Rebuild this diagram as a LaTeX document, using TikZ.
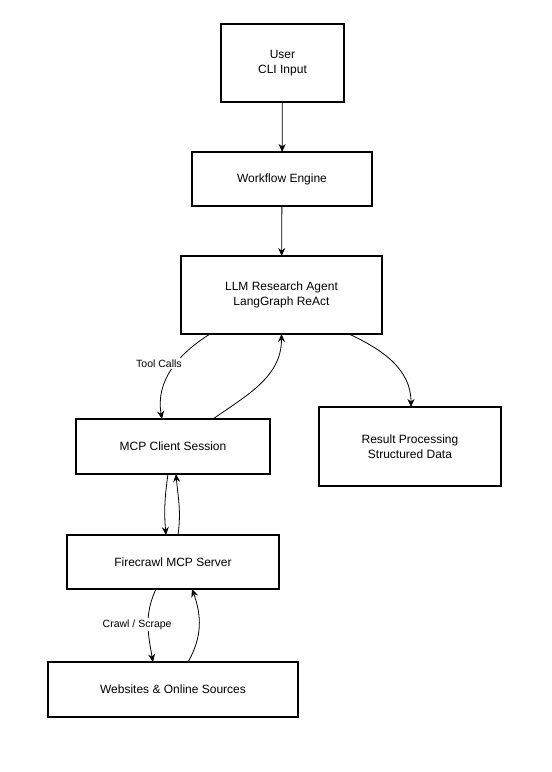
\documentclass[tikz,border=0pt]{standalone}
\usepackage{fontspec}
\setmainfont{Liberation Sans}
\usetikzlibrary{arrows.meta}
\begin{document}
\begin{tikzpicture}[x=1pt, y=1pt]
        \tikzstyle{block}=[draw=black, line width=1.6pt, align=center, font=\fontsize{12}{15}\selectfont, outer sep=0pt, inner sep=2pt]
        \tikzstyle{edge-node}=[font=\fontsize{10.5}{12}\selectfont, fill=white, inner sep=1.5pt]
        \tikzstyle{transition}=[-{Stealth[length=8pt, width=7pt]}, line width=0.8pt]
        \useasboundingbox[fill=white] (0, 0) rectangle (552, -772);
        % \draw (0, 0) grid (552, -772);
        \node[block, minimum width=123pt, minimum height=78pt] (user) at (282.5, -63) {User\\CLI Input};
        \node[block, minimum width=180pt, minimum height=54pt] (workflow) at (282, -179) {Workflow Engine};
        \node[block, minimum width=201pt, minimum height=78pt] (agent) at (281.5, -295) {LLM Research Agent\\LangGraph ReAct};
        \node[block, minimum width=194pt, minimum height=55pt] (client) at (173, -446.5) {MCP Client Session};
        \node[block, minimum width=182pt, minimum height=79pt] (result) at (410, -446.5) {Result Processing\\Structured Data};
        \node[block, minimum width=212pt, minimum height=54pt] (server) at (173, -562) {Firecrawl MCP Server};
        \node[block, minimum width=250pt, minimum height=55pt] (sources) at (173, -689.5) {Websites \& Online Sources};

        \draw[transition] (user) -- (workflow);
        \draw[transition] (workflow) -- (agent);
        \draw[transition] ([xshift=-71.5pt]agent.south) to[out=212, in=100] node[edge-node, pos=0.42, xshift=-17pt] {Tool Calls} ([xshift=-11pt]client.north);
        \draw[transition] ([xshift=40pt]client.north) to[out=35, in=270] (agent.south);
        \draw[transition] ([xshift=67.5pt]agent.south) to[out=-25, in=90] ([xshift=1pt]result.north);
        \draw[transition] ([xshift=-5pt]client.south) to[out=262, in=95] ([xshift=-7pt]server.north);
        \draw[transition] ([xshift=5pt]server.north) to[out=82, in=-85] ([xshift=3pt]client.south);
        \draw[transition] ([xshift=-17pt]server.south) to[out=245, in=100] node[edge-node, pos=0.5, xshift=-11pt] {Crawl / Scrape} ([xshift=-20pt]sources.north);
        \draw[transition] ([xshift=15pt]sources.north) to[out=60, in=-70] ([xshift=19pt]server.south);
\end{tikzpicture}
\end{document}
